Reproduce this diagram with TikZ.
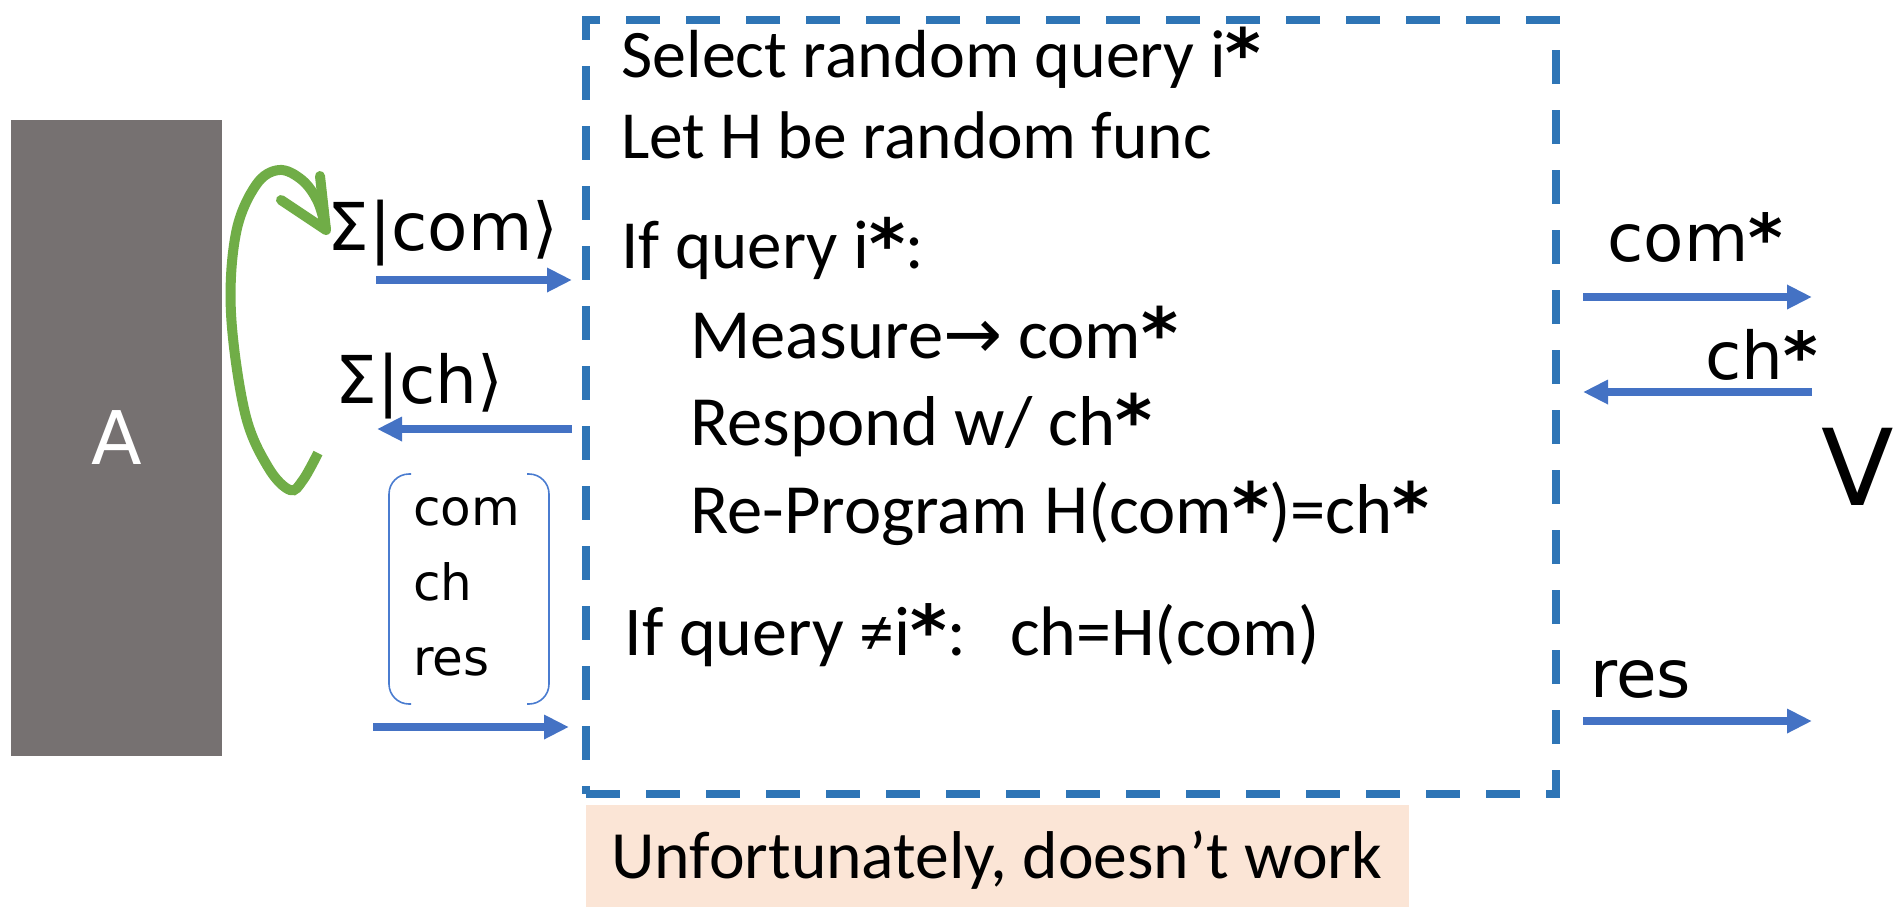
\documentclass[tikz,border=0pt]{standalone}
\usepackage{fontspec}
\setmainfont{Carlito}
\newfontfamily\comic{DejaVu Sans}
\usetikzlibrary{arrows.meta}
\definecolor{agray}{HTML}{767171}
\definecolor{dblue}{HTML}{2E75B6}
\definecolor{ablue}{HTML}{4472C4}
\definecolor{lblue}{HTML}{4A7CD0}
\definecolor{agreen}{HTML}{70AD47}
\definecolor{peach}{HTML}{FBE5D6}
\newcommand\stt{{\comic\bfseries *}}
\newcommand\fsz[1]{\fontsize{#1}{#1}\selectfont}
\begin{document}
\begin{tikzpicture}[x=0.5pt,y=-0.5pt,
  txt/.style={anchor=base west, inner sep=0pt},
  lbl/.style={anchor=base west, inner sep=0pt, font=\comic\fsz{33}},
  smalllbl/.style={anchor=base west, inner sep=0pt, font=\comic\fsz{25}},
  barrow/.style={draw=ablue, line width=3.9pt, -{Triangle[length=12.5pt,width=11.5pt]}},
  gloop/.style={draw=agreen, line width=5pt},
  brk/.style={draw=lblue, line width=0.8pt, rounded corners=10pt},
  ]
\useasboundingbox (0,0) rectangle (1902,907);

% adversary A
\node (A) [fill=agray, minimum width=105.5pt, minimum height=318pt, anchor=north west, inner sep=0pt, outer sep=0pt] at (11,120) {};
\node (Alabel) [text=white, font=\comic\fsz{37}, inner sep=0pt] at (A.center) {A};

% oracle box
\node (oracle) [draw=dblue, line width=4pt, dash pattern=on 17pt off 13pt, minimum width=485pt, minimum height=387pt, anchor=north west, inner sep=0pt, outer sep=0pt] at (586,20) {};

% texts inside box
\node (t1) [txt, font=\fsz{34}] at (621,77) {Select random query i\stt};
\node (t2) [txt, font=\fsz{33.7}] at (621,158) {Let H be random func};
\node (t3) [txt, font=\fsz{34.5}] at (621,268) {If query i\stt:};
\node (t4) [txt, font=\fsz{35.3}] at (690,358) {Measure{\comic →} com\stt};
\node (t5) [txt, font=\fsz{35.3}] at (690,445) {Respond w/ ch\stt};
\node (t6) [txt, font=\fsz{35.3}] at (690,533) {Re-Program H(com\stt)=ch\stt};
\node (t7) [txt, font=\fsz{35}] at (624,655) {If query ≠i\stt:\hspace{22pt}ch=H(com)};

% bottom note
\node (unf) [fill=peach, minimum width=411.5pt, minimum height=51pt, anchor=north west, inner sep=0pt, outer sep=0pt] at (586,805) {};
\node (unft) [txt, font=\fsz{33.8}] at (611,878) {Unfortunately, doesn’t work};

% left labels
\node (lcom) [lbl] at (327,250) {Σ|com⟩};
\node (lch) [lbl] at (335,403) {Σ|ch⟩};

% bracket list
\draw[brk] (411,474) -- (389,474) -- (389,704) -- (411,704);
\draw[brk] (527,474) -- (549,474) -- (549,704) -- (527,704);
\node (lst1) [smalllbl] at (413,525) {com};
\node (lst2) [smalllbl] at (413,600) {ch};
\node (lst3) [smalllbl] at (413,675) {res};

% left arrows
\coordinate (a1s) at (376,280); \coordinate (a1e) at (572,280);
\coordinate (a2s) at (572,429); \coordinate (a2e) at (377,429);
\coordinate (a3s) at (373,727); \coordinate (a3e) at (569,727);
\draw[barrow] (a1s) -- (a1e);
\draw[barrow] (a2s) -- (a2e);
\draw[barrow] (a3s) -- (a3e);

% right labels
\node (rcom) [lbl] at (1607,261) {com\stt};
\node (rch) [lbl] at (1705,379) {ch\stt};
\node (rres) [lbl] at (1590,697) {res};
\node (V) [font=\comic\fsz{53}, inner sep=0pt] at (1858,467) {V};

% right arrows
\coordinate (b1s) at (1583,297); \coordinate (b1e) at (1812,297);
\coordinate (b2s) at (1812,392); \coordinate (b2e) at (1583,392);
\coordinate (b3s) at (1583,721); \coordinate (b3e) at (1812,721);
\draw[barrow] (b1s) -- (b1e);
\draw[barrow] (b2s) -- (b2e);
\draw[barrow] (b3s) -- (b3e);

% green loop
\coordinate (gs) at (318,453);
\coordinate (gt) at (326,230);
\draw[gloop] plot[smooth, tension=0.6] coordinates {(318,453) (303,480) (290,490) (268,467) (245,413) (231,313) (236,233) (256,185) (279,170) (302,180) (318,202) (326,230)};
\draw[gloop, line cap=round, line join=round] (320,176) -- (gt) -- (281,200);
\end{tikzpicture}
\end{document}
